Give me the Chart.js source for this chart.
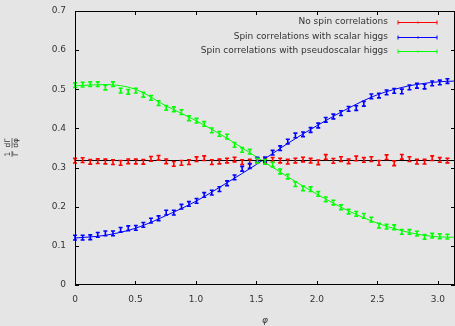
<!DOCTYPE html>
<html lang="en">
<head>
<meta charset="UTF-8">
<title>Spin correlations</title>
<script src="https://cdn.jsdelivr.net/npm/chart.js"></script>
<style>
    body { margin: 0; padding: 0; background-color: #e5e5e5; }
    #wrap { width: 455px; height: 326px; }
</style>
</head>
<body>
<div id="wrap"><canvas id="phiChart" width="455" height="326"></canvas></div>
<script>
// bin positions (phi) of the measured points
const phi = [0.000, 0.063, 0.126, 0.188, 0.251, 0.314, 0.377, 0.440, 0.503, 0.565,
             0.628, 0.691, 0.754, 0.817, 0.880, 0.942, 1.005, 1.068, 1.131, 1.194,
             1.257, 1.319, 1.382, 1.445, 1.508, 1.571, 1.634, 1.696, 1.759, 1.822,
             1.885, 1.948, 2.011, 2.073, 2.136, 2.199, 2.262, 2.325, 2.388, 2.450,
             2.513, 2.576, 2.639, 2.702, 2.765, 2.827, 2.890, 2.953, 3.016, 3.079];

const noSpin = [0.3175, 0.319, 0.3147, 0.3163, 0.3155, 0.3137, 0.312, 0.316, 0.3155, 0.3147,
                0.3223, 0.325, 0.316, 0.3095, 0.312, 0.3137, 0.3214, 0.324, 0.314, 0.3155,
                0.318, 0.3205, 0.314, 0.315, 0.3175, 0.318, 0.3197, 0.318, 0.315, 0.318,
                0.3205, 0.3175, 0.3135, 0.327, 0.317, 0.3215, 0.316, 0.3233, 0.3195, 0.3215,
                0.312, 0.3265, 0.311, 0.3275, 0.3215, 0.315, 0.315, 0.324, 0.3195, 0.318];

const scalar = [0.121, 0.121, 0.122, 0.128, 0.132, 0.132, 0.141, 0.145, 0.146, 0.1535,
                0.1645, 0.1705, 0.185, 0.185, 0.200, 0.207, 0.215, 0.230, 0.236, 0.245,
                0.260, 0.275, 0.297, 0.304, 0.320, 0.321, 0.338, 0.3495, 0.3665, 0.382,
                0.385, 0.396, 0.4075, 0.422, 0.4305, 0.439, 0.450, 0.452, 0.463, 0.482,
                0.484, 0.492, 0.496, 0.4945, 0.505, 0.509, 0.507, 0.515, 0.5175, 0.521];

const pseudo = [0.5105, 0.512, 0.513, 0.513, 0.5046, 0.513, 0.4966, 0.4936, 0.4966, 0.486,
                0.4778, 0.4647, 0.4523, 0.449, 0.4416, 0.426, 0.420, 0.4115, 0.395, 0.386,
                0.379, 0.358, 0.345, 0.3405, 0.318, 0.3146, 0.3077, 0.290, 0.277, 0.2575,
                0.247, 0.2447, 0.2327, 0.219, 0.2106, 0.1986, 0.1876, 0.1816, 0.1765, 0.167,
                0.1517, 0.149, 0.1475, 0.1355, 0.1355, 0.1313, 0.1228, 0.126, 0.1245, 0.1236];

const errSize = 0.006;

// smooth curves
const curveX = [0, 0.25, 0.5, 0.75, 1.0, 1.25, 1.5, 1.75, 2.0, 2.25, 2.5, 2.75, 3.0, 3.1416];
const scalarCurve = [0.120, 0.127, 0.145, 0.177, 0.214, 0.260, 0.308, 0.360, 0.407, 0.450, 0.486, 0.508, 0.519, 0.521];
const pseudoCurve = [0.509, 0.512, 0.500, 0.458, 0.420, 0.376, 0.327, 0.278, 0.232, 0.191, 0.158, 0.135, 0.123, 0.122];
const flatX = [0, 3.1416];
const flatCurve = [0.318, 0.318];

const legendLabels = ['No spin correlations', 'Spin correlations with scalar higgs', 'Spin correlations with pseudoscalar higgs'];
const colors = ['#ff0000', '#0000ff', '#00ff00'];

function pts(xs, ys) {
    return xs.map((x, i) => ({ x: x, y: ys[i] }));
}

const FONT = '"DejaVu Sans", sans-serif';

const gnuplotLook = {
    id: 'gnuplotLook',
    afterDatasetsDraw(chart) {
        const ctx = chart.ctx;
        const xs = chart.scales.x, ys = chart.scales.y;
        const a = chart.chartArea;
        ctx.save();
        // error bars
        chart.data.datasets.forEach((ds, di) => {
            if (!ds.errBars) return;
            ctx.strokeStyle = ds.errColor;
            ctx.lineWidth = 1.6;
            ds.data.forEach(p => {
                const px = xs.getPixelForValue(p.x);
                const y1 = ys.getPixelForValue(p.y - errSize);
                const y2 = ys.getPixelForValue(p.y + errSize);
                ctx.beginPath();
                ctx.moveTo(px, y1); ctx.lineTo(px, y2);
                ctx.moveTo(px - 2, y1); ctx.lineTo(px + 2, y1);
                ctx.moveTo(px - 2, y2); ctx.lineTo(px + 2, y2);
                ctx.stroke();
            });
        });
        // frame
        ctx.strokeStyle = '#000';
        ctx.lineWidth = 1;
        ctx.strokeRect(a.left + 0.5, a.top + 0.5, a.right - a.left - 1, a.bottom - a.top - 1);
        // inward ticks, mirrored
        ctx.beginPath();
        xs.ticks.forEach(t => {
            const px = Math.round(xs.getPixelForValue(t.value)) + 0.5;
            ctx.moveTo(px, a.bottom); ctx.lineTo(px, a.bottom - 4);
            ctx.moveTo(px, a.top); ctx.lineTo(px, a.top + 4);
        });
        ys.ticks.forEach(t => {
            const py = Math.round(ys.getPixelForValue(t.value)) + 0.5;
            ctx.moveTo(a.left, py); ctx.lineTo(a.left + 4, py);
            ctx.moveTo(a.right, py); ctx.lineTo(a.right - 4, py);
        });
        ctx.stroke();
        // legend
        ctx.font = '9px ' + FONT;
        ctx.textAlign = 'right';
        ctx.textBaseline = 'middle';
        const rows = [22, 37, 51];
        legendLabels.forEach((lab, i) => {
            ctx.fillStyle = '#333';
            ctx.fillText(lab, 388, rows[i]);
            ctx.strokeStyle = colors[i];
            ctx.lineWidth = 1;
            const y = rows[i] + 0.5;
            ctx.beginPath();
            ctx.moveTo(398, y); ctx.lineTo(437, y);
            ctx.moveTo(398, y - 2); ctx.lineTo(398, y + 2);
            ctx.moveTo(437, y - 2); ctx.lineTo(437, y + 2);
            ctx.moveTo(418, y - 1); ctx.lineTo(418, y + 1);
            ctx.stroke();
        });
        // axis titles
        ctx.fillStyle = '#333';
        ctx.textAlign = 'center';
        ctx.font = 'italic 9px ' + FONT;
        ctx.fillText('\u03c6', (a.left + a.right) / 2, 321);
        // y title: 1/Γ dΓ/dφ, rotated
        ctx.translate(12, 148);
        ctx.rotate(-Math.PI / 2);
        ctx.font = '7.5px ' + FONT;
        ctx.fillText('1', -6, -4);
        ctx.fillText('\u0393', -6, 4.5);
        ctx.fillText('d\u0393', 5, -4);
        ctx.fillText('d\u03c6', 5, 4.5);
        ctx.strokeStyle = '#333';
        ctx.lineWidth = 0.7;
        ctx.beginPath();
        ctx.moveTo(-9, 0); ctx.lineTo(-3, 0);
        ctx.moveTo(0, 0); ctx.lineTo(10, 0);
        ctx.stroke();
        ctx.restore();
    }
};

const ctx = document.getElementById('phiChart').getContext('2d');
new Chart(ctx, {
    type: 'scatter',
    data: {
        datasets: [
            { data: pts(phi, noSpin), pointRadius: 0, showLine: false, errBars: true, errColor: colors[0] },
            { data: pts(phi, scalar), pointRadius: 0, showLine: false, errBars: true, errColor: colors[1] },
            { data: pts(phi, pseudo), pointRadius: 0, showLine: false, errBars: true, errColor: colors[2] },
            { data: pts(flatX, flatCurve), showLine: true, pointRadius: 0, borderColor: '#000', borderWidth: 1 },
            { data: pts(curveX, scalarCurve), showLine: true, pointRadius: 0, borderColor: colors[1], borderWidth: 1, cubicInterpolationMode: 'monotone' },
            { data: pts(curveX, pseudoCurve), showLine: true, pointRadius: 0, borderColor: colors[2], borderWidth: 1, cubicInterpolationMode: 'monotone' }
        ]
    },
    options: {
        responsive: false,
        animation: false,
        events: [],
        layout: { padding: { top: 11, right: 0, left: 0, bottom: 0 } },
        plugins: { legend: { display: false }, tooltip: { enabled: false } },
        scales: {
            x: {
                type: 'linear',
                min: 0,
                max: 3.1416,
                grid: { display: false, drawTicks: false },
                border: { display: false },
                ticks: { stepSize: 0.5, includeBounds: false, padding: 9, color: '#333', font: { family: FONT, size: 9 } },
                afterFit(scale) { scale.height = 41; scale.paddingLeft = 0; scale.paddingRight = 0; }
            },
            y: {
                min: 0,
                max: 0.7,
                grid: { display: false, drawTicks: false },
                border: { display: false },
                ticks: { stepSize: 0.1, padding: 9, color: '#333', font: { family: FONT, size: 9 } },
                afterFit(scale) { scale.width = 75; scale.paddingTop = 0; scale.paddingBottom = 0; }
            }
        }
    },
    plugins: [gnuplotLook]
});
</script>
</body>
</html>
